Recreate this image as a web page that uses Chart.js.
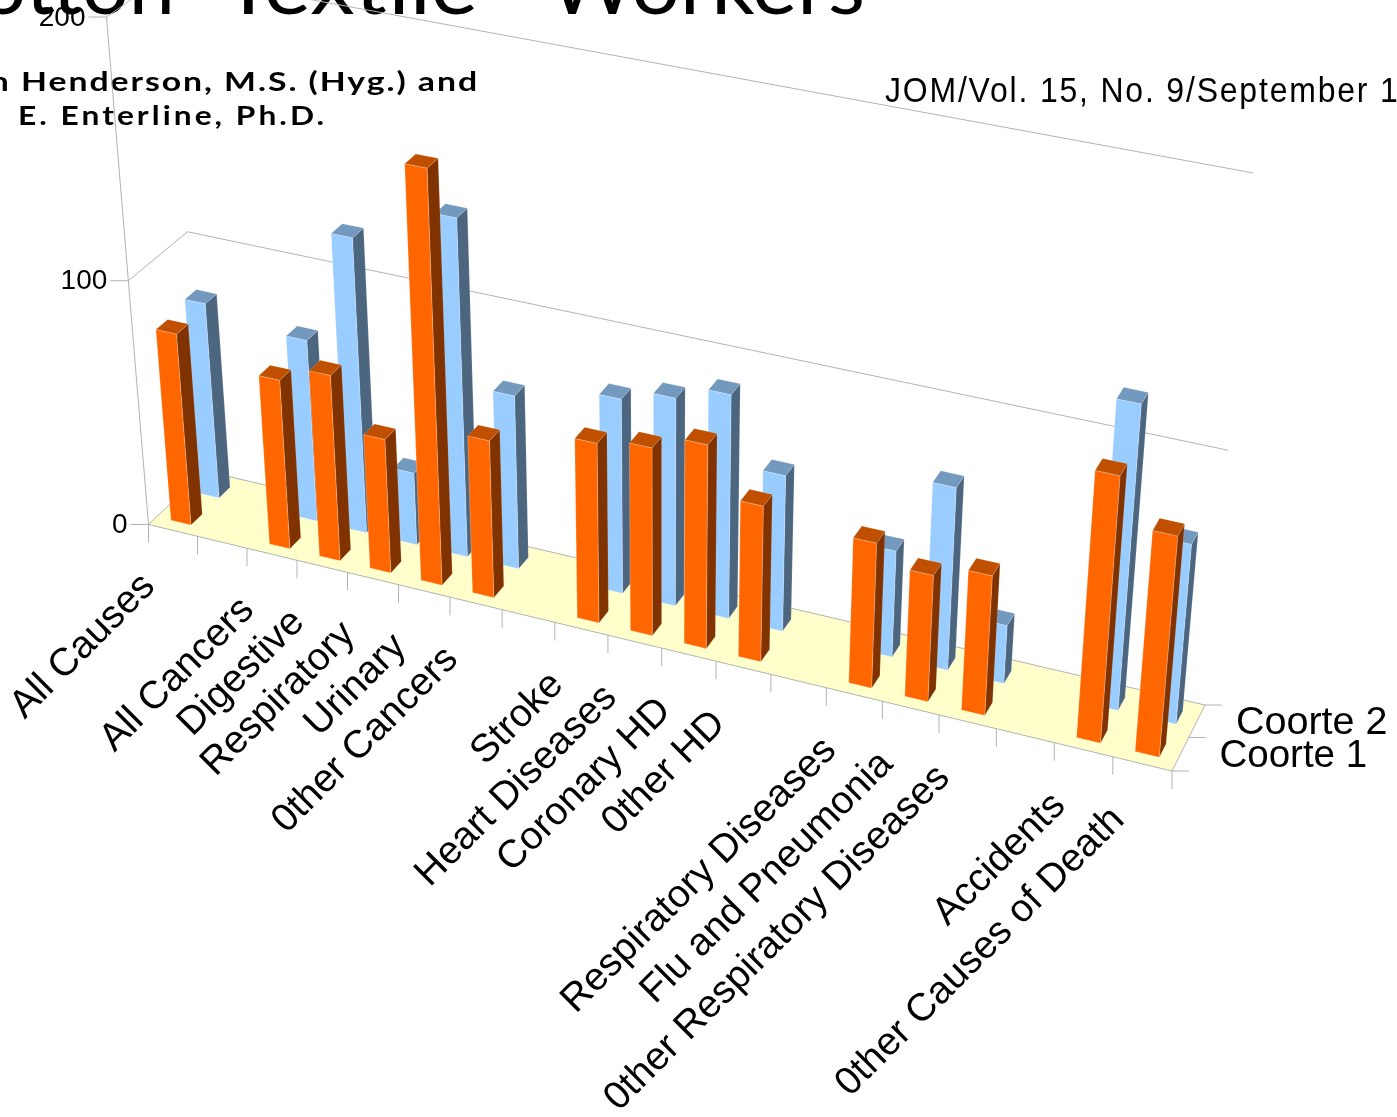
<!DOCTYPE html>
<html>
<head>
<meta charset="utf-8">
<style>
html,body{margin:0;padding:0;background:#fff;overflow:hidden}
canvas{display:block}
</style>
<script src="https://cdn.jsdelivr.net/npm/chart.js@4/dist/chart.umd.js"></script>
</head>
<body>
<canvas id="c" width="1397" height="1117"></canvas>
<script>
// Cause-of-death categories; empty strings are the spacer slots between groups.
const categories = ["All Causes","","All Cancers","Digestive","Respiratory","Urinary","0ther Cancers","",
  "Stroke","Heart Diseases","Coronary HD","0ther HD","",
  "Respiratory Diseases","Flu and Pneumonia","0ther Respiratory Diseases","",
  "Accidents","0ther Causes of Death"];
const coorte1 = [79,null,69.5,76,55,164,64,null,72.5,75.5,81.5,62.5,null,58,50.5,55.5,null,103.5,86];
const coorte2 = [81,null,75,120,30,136,71,null,79,84,90,63,null,43,73,23.5,null,119,71];
const seriesNames = ["Coorte 1","Coorte 2"];
const yTicks = [0,100,200];

// Perspective frame of the box: floor corners and the top of two uprights, in canvas space.
const frame = {
  floor:[[148.5,524.5],[1172,771],[1205,705],[205,471]],
  topFrontLeft:[106.5,17],
  topBackRight:[1253,170]
};
const depth = {rows:2, barStart:0.14, barDepth:0.2};
const palette = [
  {front:"#ff6600", side:"#803300", top:"#c05000"},
  {front:"#99ccff", side:"#4d6680", top:"#7399bf"}
];
const GRID = "#b3b3b3";
const SANS = '"Liberation Sans", Arial, sans-serif';

// Build the 3x4 projective map (u along categories, v into depth, w up) from the frame.
function buildProjection(fr){
  const [[x0,y0],[x1,y1],[x2,y2],[x3,y3]] = fr.floor;
  const dx1=x1-x2, dx2=x3-x2, dx3=x0-x1+x2-x3, dy1=y1-y2, dy2=y3-y2, dy3=y0-y1+y2-y3;
  const den=dx1*dy2-dx2*dy1;
  const g=(dx3*dy2-dx2*dy3)/den, h=(dx1*dy3-dx3*dy1)/den;
  const a=x1-x0+g*x1, b=x3-x0+h*x3, c=x0, d=y1-y0+g*y1, e=y3-y0+h*y3, f=y0;
  const [tx1,ty1]=fr.topFrontLeft, [tx2]=fr.topBackRight;
  const r=(tx2*(g+h+1)-a-b-tx1)/(tx1-tx2);
  const p=tx1*(r+1)-c, q=ty1*(r+1)-f;
  return (u,v,w)=>{
    const W=g*u+h*v+r*w+1;
    return [(a*u+b*v+p*w+c)/W,(d*u+e*v+q*w+f)/W];
  };
}
const project = buildProjection(frame);

function poly(ctx,pts,fill,stroke){
  ctx.beginPath();
  pts.forEach((pt,i)=> i?ctx.lineTo(pt[0],pt[1]):ctx.moveTo(pt[0],pt[1]));
  ctx.closePath();
  if(fill){ctx.fillStyle=fill;ctx.fill();}
  if(stroke){ctx.strokeStyle=stroke;ctx.lineWidth=0.8;ctx.stroke();}
}
function line(ctx,a,b,color,w){
  ctx.beginPath();ctx.moveTo(a[0],a[1]);ctx.lineTo(b[0],b[1]);
  ctx.strokeStyle=color||GRID;ctx.lineWidth=w||1;ctx.stroke();
}

// Bars are laid out by the stock bar controller; only the painting goes through the projection.
class Bar3DController extends Chart.BarController {
  draw(){
    const ctx=this.chart.ctx, area=this.chart.chartArea, meta=this._cachedMeta;
    const row=this.index, colors=palette[row];
    const v0=row/depth.rows+depth.barStart, v1=v0+depth.barDepth;
    ctx.save();
    meta.data.forEach((el,i)=>{
      if(meta._parsed[i].y===null||meta._parsed[i].y===undefined||isNaN(meta._parsed[i].y))return;
      const u0=(el.x-el.width/2-area.left)/area.width, u1=(el.x+el.width/2-area.left)/area.width;
      const w=(area.bottom-el.y)/area.height;
      const A=project(u0,v0,0),B=project(u1,v0,0),C=project(u1,v0,w),D=project(u0,v0,w);
      const E=project(u1,v1,0),F=project(u1,v1,w),G=project(u0,v1,w);
      poly(ctx,[B,E,F,C],colors.side,"rgba(255,255,255,.18)");
      poly(ctx,[D,C,F,G],colors.top,"rgba(255,255,255,.18)");
      poly(ctx,[A,B,C,D],colors.front,"rgba(255,255,255,.3)");
    });
    ctx.restore();
  }
}
Bar3DController.id="bar3d";
Bar3DController.defaults=Chart.BarController.defaults;
Bar3DController.overrides=Chart.BarController.overrides;
Chart.register(Bar3DController);

// Draw a string stretched horizontally so that fitPart spans xStart..xEnd.
function fitText(ctx,text,fitPart,xStart,xEnd,baseline,font,spacing){
  ctx.save();
  ctx.font=font;
  ctx.letterSpacing=spacing||"0px";
  ctx.fillStyle="#000";
  ctx.textAlign="left";
  ctx.textBaseline="alphabetic";
  const sx=(xEnd-xStart)/ctx.measureText(fitPart).width;
  ctx.translate(xStart,baseline);
  ctx.scale(sx,1);
  const lead=text.endsWith(fitPart)?ctx.measureText(text).width-ctx.measureText(fitPart).width:0;
  ctx.fillText(text,-lead,0);
  ctx.restore();
}

const pageText={
  id:"pageText",
  beforeDraw(chart){
    const ctx=chart.ctx;
    ctx.save();
    ctx.fillStyle="#fff";
    ctx.fillRect(0,0,chart.width,chart.height);
    ctx.restore();
    fitText(ctx,"Cotton","Cotton",-75,175,14,'82px Lato');
    fitText(ctx,"Textile","Textile",222,478,14,'82px Lato');
    fitText(ctx,"Workers","Workers",548,865,14,'82px Lato');
    fitText(ctx,"n Henderson, M.S. (Hyg.) and","Henderson, M.S. (Hyg.) and",21,479,91,'bold 26px Lato',"1.5px");
    fitText(ctx,"E. Enterline, Ph.D.","E. Enterline, Ph.D.",18,327,125,'bold 26px Lato',"2.5px");
    fitText(ctx,"JOM/Vol. 15, No. 9/September 1963","JOM/Vol. 15, No. 9/September ",885,1380,102,'35px "Liberation Sans Narrow", '+SANS,"2px");
  }
};

const box3d={
  id:"box3d",
  beforeDatasetsDraw(chart){
    const ctx=chart.ctx, area=chart.chartArea, xs=chart.scales.x, ys=chart.scales.y;
    const uOf=px=>(px-area.left)/area.width, wOf=py=>(area.bottom-py)/area.height;
    ctx.save();

    // floor
    poly(ctx,[project(0,0,0),project(1,0,0),project(1,1,0),project(0,1,0)],"#ffffcc",null);
    line(ctx,project(0,0,0),project(1,0,0));
    line(ctx,project(1,0,0),project(1,1,0));
    line(ctx,project(1,1,0),project(0,1,0));
    line(ctx,project(0,1,0),project(0,0,0));

    // value axis, wall gridlines and labels
    line(ctx,project(0,0,0),project(0,0,wOf(ys.getPixelForValue(yTicks[yTicks.length-1]))));
    ctx.font='28px '+SANS;
    ctx.fillStyle="#000";
    ctx.textAlign="right";
    ctx.textBaseline="middle";
    ys.ticks.forEach((t,i)=>{
      const w=wOf(ys.getPixelForTick(i));
      const p0=project(0,0,w);
      line(ctx,p0,[p0[0]-18,p0[1]]);
      if(t.value>0){
        line(ctx,p0,project(0,1,w));
        line(ctx,project(0,1,w),project(1,1,w));
      }
      ctx.fillText(String(t.value),p0[0]-21,p0[1]+1);
    });

    // category ticks along the front edge
    const slot=area.width/categories.length;
    for(let i=0;i<=categories.length;i++){
      const px=i<categories.length?xs.getPixelForTick(i)-slot/2:xs.getPixelForTick(i-1)+slot/2;
      const p=project(uOf(px),0,0);
      line(ctx,p,[p[0],p[1]+18]);
    }

    // slanted category labels
    ctx.font='39px '+SANS;
    ctx.textAlign="right";
    ctx.textBaseline="middle";
    xs.ticks.forEach((t,i)=>{
      const label=categories[i];
      if(!label)return;
      const p=project(uOf(xs.getPixelForTick(i)),0,0);
      ctx.save();
      ctx.translate(p[0]-24,p[1]+50);
      ctx.rotate(-Math.PI/4);
      ctx.fillText(label,0,0);
      ctx.restore();
    });

    // series ticks and names on the depth edge
    for(let r=0;r<=depth.rows;r++){
      const p=project(1,r/depth.rows,0);
      line(ctx,p,[p[0]+17,p[1]]);
    }
    ctx.textAlign="left";
    const nameSizes=[38.5,39.5];
    seriesNames.forEach((name,r)=>{
      const p=project(1,(r+0.5)/depth.rows,0);
      ctx.font=nameSizes[r]+'px '+SANS;
      ctx.fillText(name,p[0]+39,p[1]+2);
    });
    ctx.restore();
  }
};

new Chart(document.getElementById("c"),{
  type:"bar3d",
  data:{
    labels:categories,
    datasets:[
      {label:seriesNames[0],data:coorte1},
      {label:seriesNames[1],data:coorte2}
    ]
  },
  options:{
    responsive:false,
    animation:false,
    layout:{padding:0},
    grouped:false,
    datasets:{bar3d:{grouped:false,barPercentage:0.41,categoryPercentage:1}},
    plugins:{legend:{display:false},title:{display:false},tooltip:{enabled:false}},
    events:[],
    scales:{
      x:{type:"category",offset:true,display:false,ticks:{autoSkip:false},grid:{offset:true}},
      y:{type:"linear",min:0,max:200,display:false,ticks:{stepSize:100}}
    }
  },
  plugins:[pageText,box3d]
});
</script>
</body>
</html>
